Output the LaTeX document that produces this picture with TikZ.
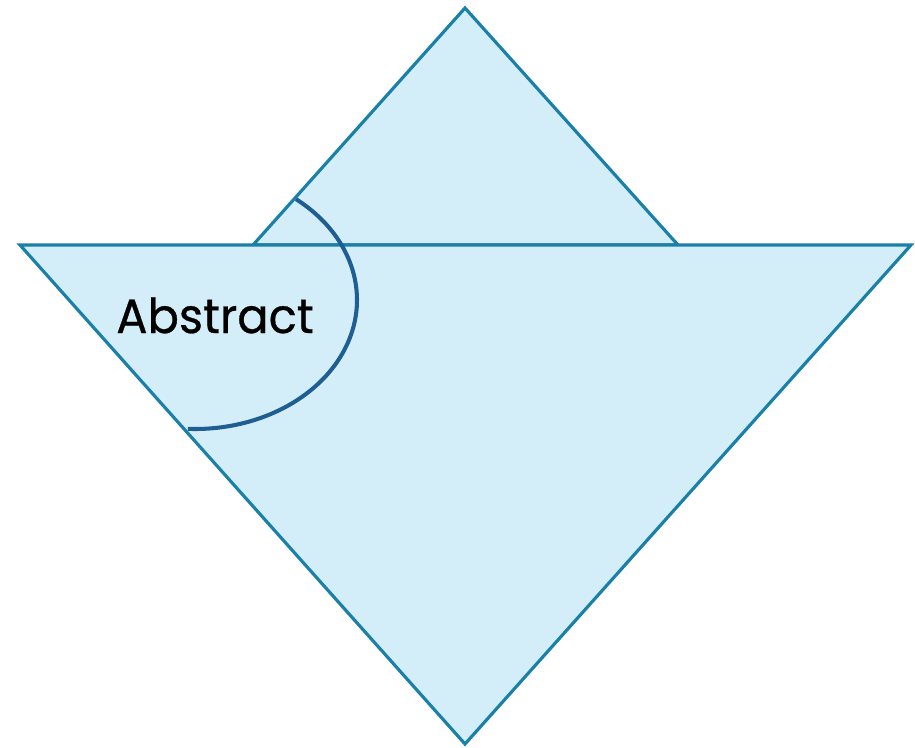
\documentclass[tikz,border=0pt]{standalone}
\usepackage{fontspec}
\setmainfont{Poppins}
\newfontfamily\absfont[FakeStretch=0.96,FakeBold=0.6]{Poppins}
\definecolor{fillblue}{HTML}{D4EEF9}
\definecolor{edgeblue}{HTML}{1A80A8}
\definecolor{arcblue}{HTML}{1F5E93}
\begin{document}
\begin{tikzpicture}[x=0.02cm,y=-0.02cm,
  tri/.style={fill=fillblue,draw=edgeblue,line width=1.8pt,line join=miter},
  arcline/.style={draw=arcblue,line width=2.3pt},
  lbl/.style={font=\absfont\fontsize{27.5}{30}\selectfont,text=black,inner sep=0pt,anchor=base}]
\useasboundingbox (0,0) rectangle (915,747);
\coordinate (st) at (465,8);
\coordinate (sl) at (253,245);
\coordinate (sr) at (678,245);
\coordinate (bl) at (20,245);
\coordinate (br) at (911,245);
\coordinate (bb) at (465,744);
\draw[tri] (st) -- (sl) -- (sr) -- cycle;
\draw[tri] (bl) -- (br) -- (bb) -- cycle;
\draw[arcline] plot[domain=51.4:-92.5,samples=80,smooth] ({195+162*cos(\x)},{300-129*sin(\x)});
\node[lbl] (abs) at (215,333) {Abstract};
\end{tikzpicture}
\end{document}
